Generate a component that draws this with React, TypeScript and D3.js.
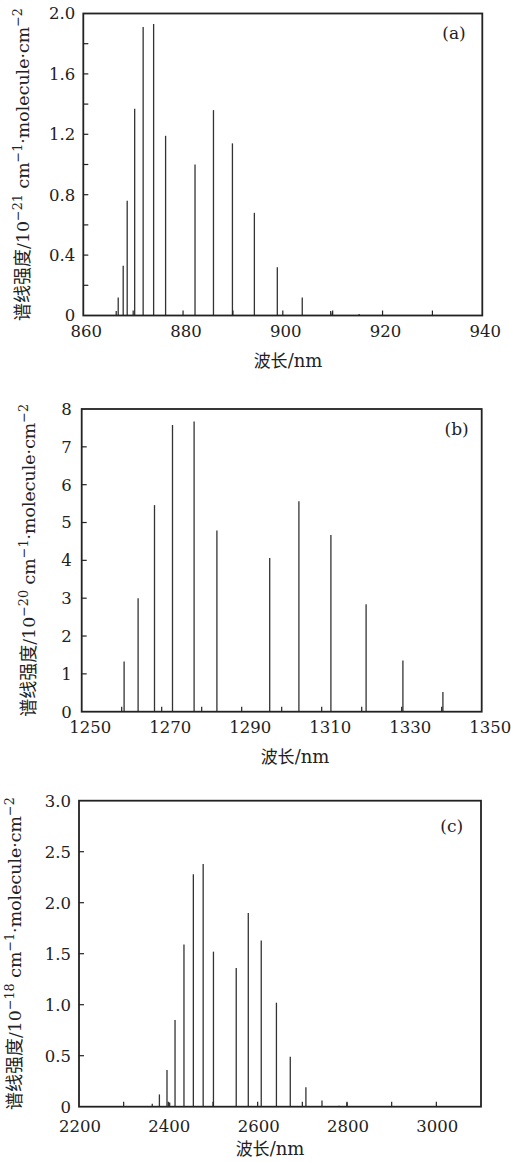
import React from 'react';
import * as d3 from 'd3';

// Panel (a) — 860–940 nm, units 10^-21
const aWavelength = [866.6, 867.0, 868.0, 868.8, 870.3, 872.0, 874.1, 876.5, 882.4, 886.1, 889.9, 894.3, 898.9, 903.9, 909.6, 909.9, 915.3];
const aIntensity = [0.03, 0.12, 0.33, 0.76, 1.37, 1.91, 1.93, 1.19, 1.0, 1.36, 1.14, 0.68, 0.32, 0.12, 0.03, 0.02, 0.01];
const aYTickLabels = ['0', '0.4', '0.8', '1.2', '1.6', '2.0'];
const aXTickLabels = ['860', '880', '900', '920', '940'];

// Panel (b) — 1250–1350 nm, units 10^-20
const bWavelength = [1260.6, 1264.1, 1268.2, 1272.7, 1278.1, 1283.8, 1297.0, 1304.3, 1312.3, 1321.1, 1330.3, 1340.3];
const bIntensity = [1.33, 3.0, 5.46, 7.58, 7.67, 4.79, 4.06, 5.56, 4.67, 2.84, 1.35, 0.52];
const bYTickLabels = ['0', '1', '2', '3', '4', '5', '6', '7', '8'];
const bXTickLabels = ['1250', '1270', '1290', '1310', '1330', '1350'];

// Panel (c) — 2200–3100 nm, units 10^-18
const cWavelength = [2364, 2380, 2397, 2403, 2415, 2435, 2456, 2478, 2501, 2552, 2579, 2608, 2642, 2673, 2708, 2744, 2782, 2800];
const cIntensity = [0.03, 0.12, 0.36, 0.04, 0.85, 1.59, 2.28, 2.38, 1.52, 1.36, 1.9, 1.63, 1.02, 0.49, 0.19, 0.06, 0.01, 0.04];
const cYTickLabels = ['0', '0.5', '1.0', '1.5', '2.0', '2.5', '3.0'];
const cXTickLabels = ['2200', '2400', '2600', '2800', '3000'];

const SERIF = '"DejaVu Serif", serif';
const CJK = '"Noto Sans CJK SC", sans-serif';
const INK = '#222';

type PanelProps = {
  left: number; right: number; top: number; bottom: number;
  xDomain: [number, number]; yDomain: [number, number];
  xMinorStep: number; yMinorStep: number;
  xTickLabels: string[]; yTickLabels: string[];
  wavelength: number[]; intensity: number[];
  tag: string; exponent: string;
  xLabelDx: number; xTickBaseline: number; yLabelGap: number;
  xTitleX: number; xTitleBaseline: number;
  yTitleX: number;
  tagX: number; tagY: number;
};

function Panel(p: PanelProps) {
  const x = d3.scaleLinear().domain(p.xDomain).range([p.left, p.right]);
  const y = d3.scaleLinear().domain(p.yDomain).range([p.bottom, p.top]);
  const xMinor = d3.range(p.xDomain[0] + p.xMinorStep, p.xDomain[1] - 1e-9, p.xMinorStep);
  const yMinor = d3.range(p.yDomain[0] + p.yMinorStep, p.yDomain[1] - 1e-9, p.yMinorStep);
  const tickLen = 5;
  const cy = (p.top + p.bottom) / 2;
  return (
    <g>
      {p.wavelength.map((w, i) => (
        <line key={'l' + i} x1={x(w)} x2={x(w)} y1={y(0)} y2={y(p.intensity[i])} stroke="#333" strokeWidth={1.3} />
      ))}
      {xMinor.map((v, i) => (
        <line key={'xt' + i} x1={x(v)} x2={x(v)} y1={p.bottom} y2={p.bottom - tickLen} stroke={INK} strokeWidth={1.2} />
      ))}
      {yMinor.map((v, i) => (
        <line key={'yt' + i} x1={p.left} x2={p.left + tickLen} y1={y(v)} y2={y(v)} stroke={INK} strokeWidth={1.2} />
      ))}
      <rect x={p.left} y={p.top} width={p.right - p.left} height={p.bottom - p.top} fill="none" stroke={INK} strokeWidth={1.8} />
      {p.xTickLabels.map((t, i) => (
        <text key={'xl' + i} x={x(+t) + p.xLabelDx} y={p.xTickBaseline} textAnchor="middle" fontFamily={SERIF} fontSize={16.5} fill={INK}>{t}</text>
      ))}
      {p.yTickLabels.map((t, i) => (
        <text key={'yl' + i} x={p.left - p.yLabelGap} y={y(+t)} dy="0.36em" textAnchor="end" fontFamily={SERIF} fontSize={16.5} fill={INK}>{t}</text>
      ))}
      <text x={p.tagX} y={p.tagY} textAnchor="middle" dy="0.35em" fontFamily={SERIF} fontSize={17} fill={INK}>{p.tag}</text>
      <text x={p.xTitleX} y={p.xTitleBaseline} textAnchor="middle" fill={INK}>
        <tspan fontFamily={CJK} fontSize={17}>波长</tspan>
        <tspan fontFamily={SERIF} fontSize={18}>/nm</tspan>
      </text>
      <text transform={`translate(${p.yTitleX + 6},${cy}) rotate(-90)`} textAnchor="middle" fill={INK}>
        <tspan fontFamily={CJK} fontSize={18}>谱线强度</tspan>
        <tspan fontFamily={SERIF} fontSize={17.4}>/10</tspan>
        <tspan fontFamily={SERIF} fontSize={12.7} dy={-7}>{'−' + p.exponent}</tspan>
        <tspan fontFamily={SERIF} fontSize={17.4} dy={7}>{'\u00a0cm'}</tspan>
        <tspan fontFamily={SERIF} fontSize={12.7} dy={-7}>−1</tspan>
        <tspan fontFamily={SERIF} fontSize={17.4} dy={7}>·molecule·cm</tspan>
        <tspan fontFamily={SERIF} fontSize={12.7} dy={-7}>−2</tspan>
      </text>
    </g>
  );
}

export default function App() {
  return (
    <svg width={511} height={1162} style={{ position: 'absolute', left: 0, top: 0, background: '#fff' }}>
      <rect x={0} y={0} width={511} height={1162} fill="#fff" />
      <Panel left={83.3} right={482.3} top={13.5} bottom={315.5}
        xDomain={[860, 940]} yDomain={[0, 2.0]} xMinorStep={10} yMinorStep={0.2}
        xTickLabels={aXTickLabels} yTickLabels={aYTickLabels}
        wavelength={aWavelength} intensity={aIntensity}
        tag="(a)" exponent="21" xLabelDx={3} xTickBaseline={336.5} yLabelGap={8}
        xTitleX={288} xTitleBaseline={367} yTitleX={23} tagX={454} tagY={33} />
      <Panel left={81.7} right={481.7} top={409} bottom={711.7}
        xDomain={[1250, 1350]} yDomain={[0, 8]} xMinorStep={10} yMinorStep={1}
        xTickLabels={bXTickLabels} yTickLabels={bYTickLabels}
        wavelength={bWavelength} intensity={bIntensity}
        tag="(b)" exponent="20" xLabelDx={8.5} xTickBaseline={733} yLabelGap={10}
        xTitleX={295} xTitleBaseline={763} yTitleX={29} tagX={456.7} tagY={429.3} />
      <Panel left={79} right={481} top={800.7} bottom={1106.7}
        xDomain={[2200, 3100]} yDomain={[0, 3.0]} xMinorStep={100} yMinorStep={0.5}
        xTickLabels={cXTickLabels} yTickLabels={cYTickLabels}
        wavelength={cWavelength} intensity={cIntensity}
        tag="(c)" exponent="18" xLabelDx={1} xTickBaseline={1131.5} yLabelGap={8}
        xTitleX={270} xTitleBaseline={1155} yTitleX={15} tagX={451.7} tagY={825.7} />
    </svg>
  );
}
